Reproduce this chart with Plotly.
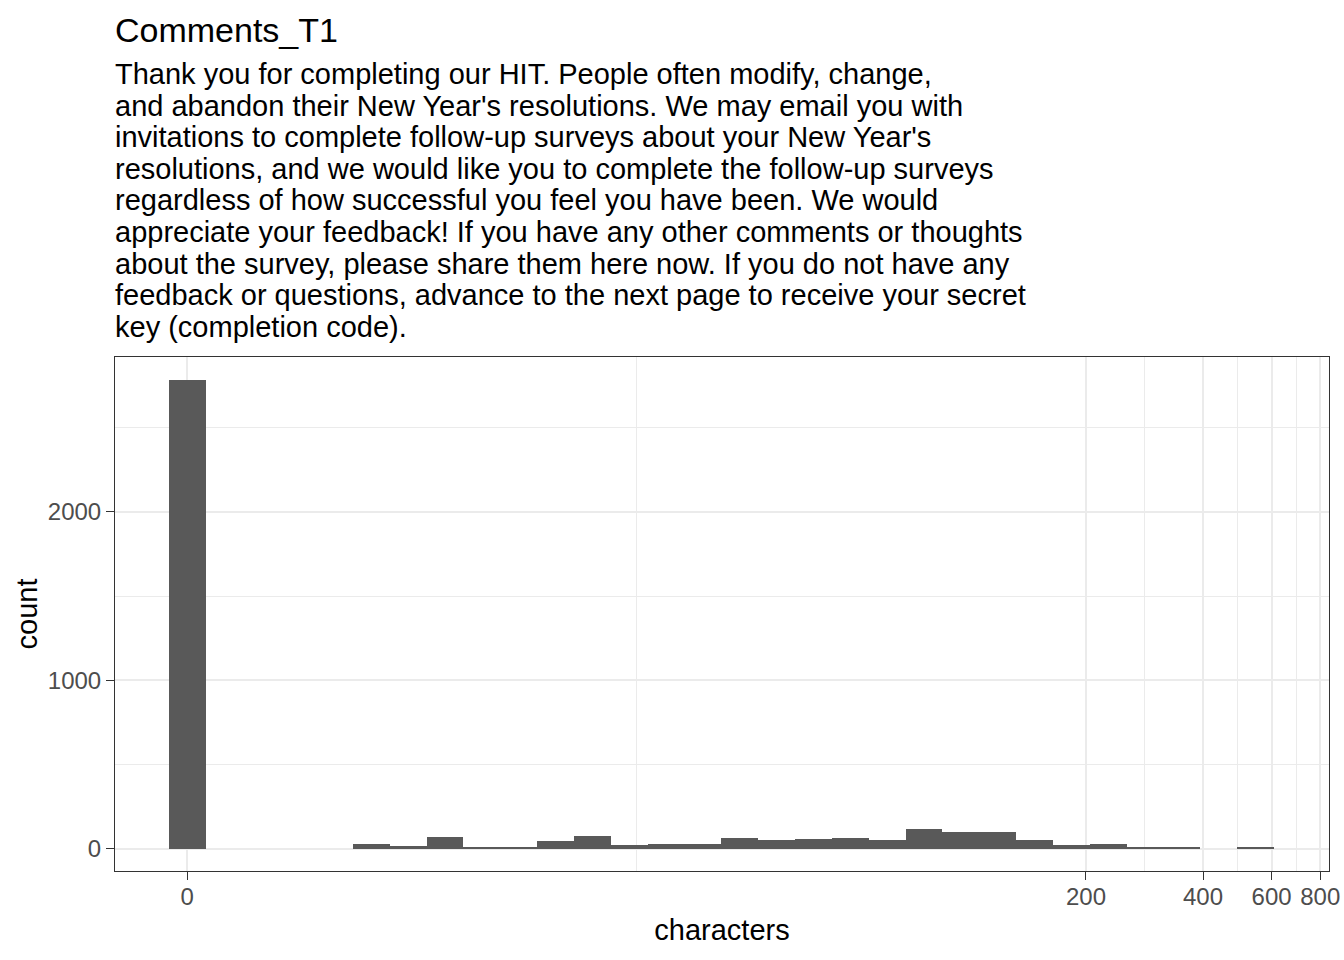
import numpy as np
import plotly.graph_objects as go

# histogram of comment length, binned on a log10(x + 1) scale (30 bins)
bin_width = 0.0944
counts = [2782, 0, 0, 0, 0, 27, 18, 71, 6, 12,
          49, 77, 25, 30, 30, 67, 55, 59, 65, 53,
          119, 103, 103, 55, 24, 30, 6, 13, 0, 13]
bin_centers = np.arange(len(counts)) * bin_width

tick_chars = [0, 200, 400, 600, 800]
minor_chars = [13.2, 283, 490, 694]  # midpoints between majors on transformed scale
y_ticks = [0, 1000, 2000]
y_minor = [500, 1500, 2500]

title = "Comments_T1"
subtitle_lines = [
    "Thank you for completing our HIT. People often modify, change,",
    "and abandon their New Year's resolutions. We may email you with",
    "invitations to complete follow-up surveys about your New Year's",
    "resolutions, and we would like you to complete the follow-up surveys",
    "regardless of how successful you feel you have been. We would",
    "appreciate your feedback! If you have any other comments or thoughts",
    "about the survey, please share them here now. If you do not have any",
    "feedback or questions, advance to the next page to receive your secret",
    "key (completion code).",
]

FONT = "Liberation Sans, Arial, sans-serif"

def tr(v):
    return np.log10(np.asarray(v, dtype=float) + 1)

fig = go.Figure(go.Bar(
    x=bin_centers,
    y=counts,
    width=bin_width,
    marker=dict(color="#595959", line=dict(width=0)),
))

# panel occupies pixels 115..1329 (x) and 357..871 (y)
top, bottom = 357, 871
def paper_y(px):
    return 1 + (top - px) / (bottom - top)

ann = [dict(text=title, x=0, y=paper_y(30), xref="paper", yref="paper",
            xanchor="left", yanchor="middle", showarrow=False, xshift=-2,
            font=dict(size=34, color="black", family=FONT))]
for i, line in enumerate(subtitle_lines):
    ann.append(dict(text=line, x=0, y=paper_y(74 + i * 31.6), xref="paper",
                    yref="paper", xanchor="left", yanchor="middle",
                    showarrow=False, xshift=-2,
                    font=dict(size=29, color="black", family=FONT)))

axis_common = dict(
    showline=True, mirror=True, linecolor="#333333", linewidth=1,
    ticks="outside", ticklen=8, tickwidth=1, tickcolor="#333333",
    gridcolor="#EBEBEB", gridwidth=2, zeroline=False, automargin=False,
    tickfont=dict(size=24, color="#4D4D4D", family=FONT),
)

fig.update_layout(
    width=1344, height=960,
    margin=dict(l=115, r=15, t=top, b=960 - bottom, autoexpand=False),
    paper_bgcolor="white", plot_bgcolor="white",
    bargap=0, showlegend=False,
    annotations=ann,
    xaxis=dict(
        range=[-0.185, 2.926],
        tickmode="array", tickvals=tr(tick_chars),
        ticktext=[str(v) for v in tick_chars],
        ticklabelstandoff=-4,
        minor=dict(tickmode="array", tickvals=tr(minor_chars),
                   showgrid=True, gridcolor="#EBEBEB", gridwidth=1, ticks=""),
        title=dict(text="characters", standoff=10,
                   font=dict(size=29, color="black", family=FONT)),
        **axis_common,
    ),
    yaxis=dict(
        range=[-131, 2920],
        tickmode="array", tickvals=y_ticks,
        ticktext=[str(v) for v in y_ticks],
        minor=dict(tickmode="array", tickvals=y_minor,
                   showgrid=True, gridcolor="#EBEBEB", gridwidth=1, ticks=""),
        title=dict(text="count", standoff=1,
                   font=dict(size=29, color="black", family=FONT)),
        **axis_common,
    ),
)

# drop the default body margin so the figure sits at the page corner
fig.write_html("out.html", config={"displayModeBar": False},
               post_script="document.body.style.margin='0';")
